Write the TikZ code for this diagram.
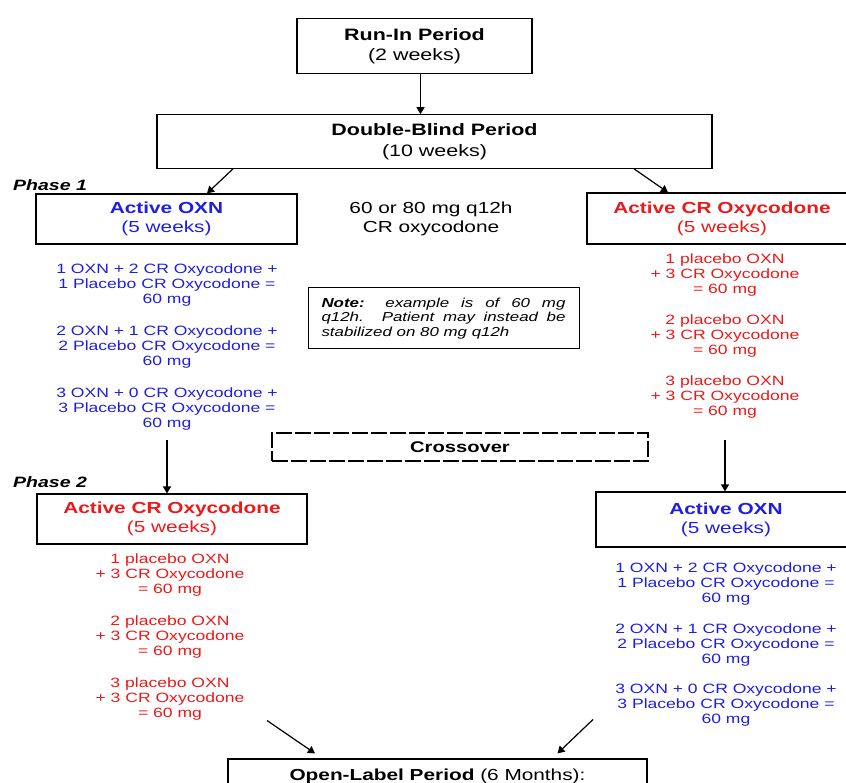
\documentclass[tikz,border=0pt]{standalone}
\usepackage{fontspec}
\setmainfont{Liberation Sans}[FakeStretch=1.3]
\usetikzlibrary{arrows.meta}
\definecolor{oxnblue}{RGB}{30,30,225}
\definecolor{oxyred}{RGB}{235,25,25}
\begin{document}
\begin{tikzpicture}[x=1pt,y=-1pt,
  box/.style={draw,line width=1.2pt,align=center,inner sep=0pt},
  head/.style={font=\fontsize{16}{19}\selectfont},
  dose/.style={align=center,inner sep=0pt,font=\fontsize{13.5}{15}\selectfont},
  phase/.style={anchor=base west,inner sep=0pt,font=\fontsize{15}{18}\selectfont\bfseries\itshape},
  arr/.style={line width=1.2pt,-{Triangle[length=7pt,width=8pt]}}]
  \useasboundingbox (0,0) rectangle (846,783);
  \clip (0,0) rectangle (846,783);
  % periods
  \node[box,minimum width=235pt,minimum height=54.5pt,font=\fontsize{16.5}{20.5}\selectfont] (runin) at (414.5,46)
        {\textbf{Run-In Period}\\(2 weeks)};
  \node[box,minimum width=555pt,minimum height=53.5pt,font=\fontsize{16.5}{20.5}\selectfont] (dblind) at (434.5,141.5)
        {\textbf{Double-Blind Period}\\(10 weeks)};
  \draw[arr] ([xshift=6pt]runin.south) -- ([xshift=6pt]runin.south |- dblind.north);
  % phase 1
  \node[phase] (ph1) at (13,191) {Phase 1};
  \node[box,head,text=oxnblue,minimum width=261pt,minimum height=50pt] (oxnA) at (166.5,219)
        {\textbf{Active OXN}\\(5 weeks)};
  \node[box,head,text=oxyred,minimum width=270pt,minimum height=51pt] (crA) at (722,218.5)
        {\textbf{Active CR Oxycodone}\\(5 weeks)};
  \draw[arr] ([xshift=-201.5pt]dblind.south) -- ([xshift=40.5pt]oxnA.north);
  \draw[arr] ([xshift=199.5pt]dblind.south) -- ([xshift=-54pt]crA.north);
  \node[align=center,inner sep=0pt,font=\fontsize{16}{19}\selectfont] (stab) at (431,218.5)
        {60 or 80 mg q12h\\CR oxycodone};
  \foreach \n/\m/\y in {1/2/285,2/1/347,3/0/409}
    \node[dose,text=oxnblue] (oxnA\n) at (167,\y)
          {\n\ OXN + \m\ CR Oxycodone +\\\n\ Placebo CR Oxycodone =\\60 mg};
  \foreach \n/\y in {1/275,2/336,3/397}
    \node[dose,text=oxyred] (crA\n) at (725,\y) {\n\ placebo OXN\\+ 3 CR Oxycodone\\= 60 mg};
  \node[box,line width=1pt,text width=244pt,align=justify,inner xsep=13.5pt,minimum height=61pt,
        font=\fontsize{13}{14.5}\selectfont\itshape] (note) at (443.5,318.5)
        {\textbf{Note:} example is of 60 mg\linebreak q12h. Patient may instead be\linebreak stabilized on 80 mg q12h};
  % crossover
  \node[draw,line width=1.2pt,dash pattern=on 16pt off 3pt,minimum width=376pt,minimum height=28pt,
        font=\fontsize{15.5}{18}\selectfont\bfseries] (xover) at (460,447) {Crossover};
  % phase 2
  \node[phase] (ph2) at (13,487) {Phase 2};
  \node[box,head,text=oxyred,minimum width=270pt,minimum height=50pt] (crB) at (172,519)
        {\textbf{Active CR Oxycodone}\\(5 weeks)};
  \node[box,head,text=oxnblue,minimum width=260pt,minimum height=55pt] (oxnB) at (726,519.5)
        {\textbf{Active OXN}\\(5 weeks)};
  \draw[arr] ([yshift=-8pt]oxnA3.south |- xover.north) -- (oxnA3.south |- crB.north);
  \draw[arr] ([yshift=-8pt]crA3.south |- xover.north) -- (crA3.south |- oxnB.north);
  \foreach \n/\y in {1/575,2/637,3/699}
    \node[dose,text=oxyred] (crB\n) at (170,\y) {\n\ placebo OXN\\+ 3 CR Oxycodone\\= 60 mg};
  \foreach \n/\m/\y in {1/2/584,2/1/645,3/0/705}
    \node[dose,text=oxnblue] (oxnB\n) at (726,\y)
          {\n\ OXN + \m\ CR Oxycodone +\\\n\ Placebo CR Oxycodone =\\60 mg};
  % open label
  \node[box,minimum width=419pt,minimum height=34pt,font=\fontsize{16}{19}\selectfont] (openl) at (437.5,776)
        {\textbf{Open-Label Period} (6 Months):};
  \draw[arr] ([xshift=97pt]crB3.south) -- ([xshift=-122.5pt,yshift=5pt]openl.north);
  \draw[arr] ([xshift=-133pt,yshift=7pt]oxnB3.south) -- ([xshift=120pt,yshift=5pt]openl.north);
\end{tikzpicture}
\end{document}
